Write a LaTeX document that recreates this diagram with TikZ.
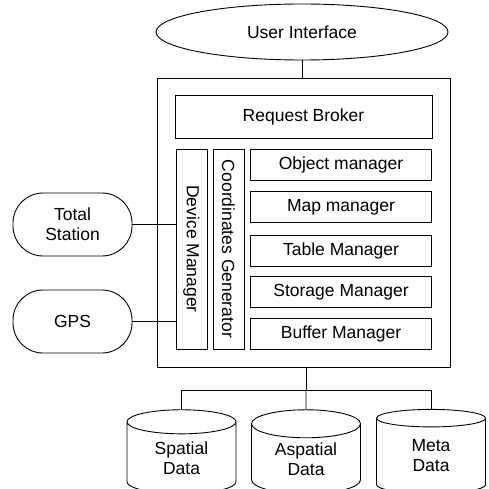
\documentclass[tikz,border=0pt]{standalone}
\usepackage{fontspec}
\setmainfont{Liberation Sans}
\usetikzlibrary{shapes.geometric}
\begin{document}
\begin{tikzpicture}[x=1pt,y=-1pt,line width=0.9pt,
  every node/.style={font=\fontsize{17.5}{20}\selectfont, inner sep=0pt},
  box/.style={draw, rectangle},
  mgr/.style={box, minimum width=181pt, minimum height=31pt},
  col/.style={box, minimum width=31pt, minimum height=200pt},
  dev/.style={draw, rectangle, rounded corners=30pt, minimum width=119pt, minimum height=63pt, align=center},
  db/.style={draw, cylinder, shape border rotate=90, aspect=0.45, minimum width=109pt, minimum height=84pt, align=center}]
\useasboundingbox (0,0) rectangle (488,489);
\node[draw, ellipse, minimum width=292pt, minimum height=56pt] (ui) at (302,32) {User Interface};
\node[box, minimum width=293pt, minimum height=289pt] (main) at (303.5,222.5) {};
\node[box, minimum width=257pt, minimum height=43pt] (rb) at (303.5,116.5) {Request Broker};
\node[mgr] (om) at (341,164.5) {Object manager};
\node[mgr] (mm) at (341,207) {Map manager};
\node[mgr] (tm) at (341,250.5) {Table Manager};
\node[mgr] (sm) at (341,292) {Storage Manager};
\node[mgr] (bm) at (341,333.5) {Buffer Manager};
\node[col] (dm) at (191.5,249) {};
\node[rotate=-90] at (dm.center) {Device Manager};
\node[col] (cg) at (228.5,249) {};
\node[rotate=-90] at (cg.center) {Coordinates Generator};
\node[dev] (ts) at (72.5,224.5) {Total\\Station};
\node[dev] (gps) at (72.5,321.5) {GPS};
\node[db] (sd) at (181.5,458) {Spatial\\Data};
\node[db] (ad) at (306,459) {Aspatial\\Data};
\node[db] (md) at (431,456) {Meta\\Data};
\coordinate (split) at (306,390);
\draw (ui.south) -- (ui.south |- main.north);
\draw (ts.east) -- (ts.east -| dm.west);
\draw (gps.east) -- (gps.east -| dm.west);
\draw (main.south -| split) -- (split);
\draw (sd.north |- split) -- (md.north |- split);
\draw (sd.north |- split) -- (sd.north);
\draw (split) -- (ad.north);
\draw (md.north |- split) -- (md.north);
\end{tikzpicture}
\end{document}
